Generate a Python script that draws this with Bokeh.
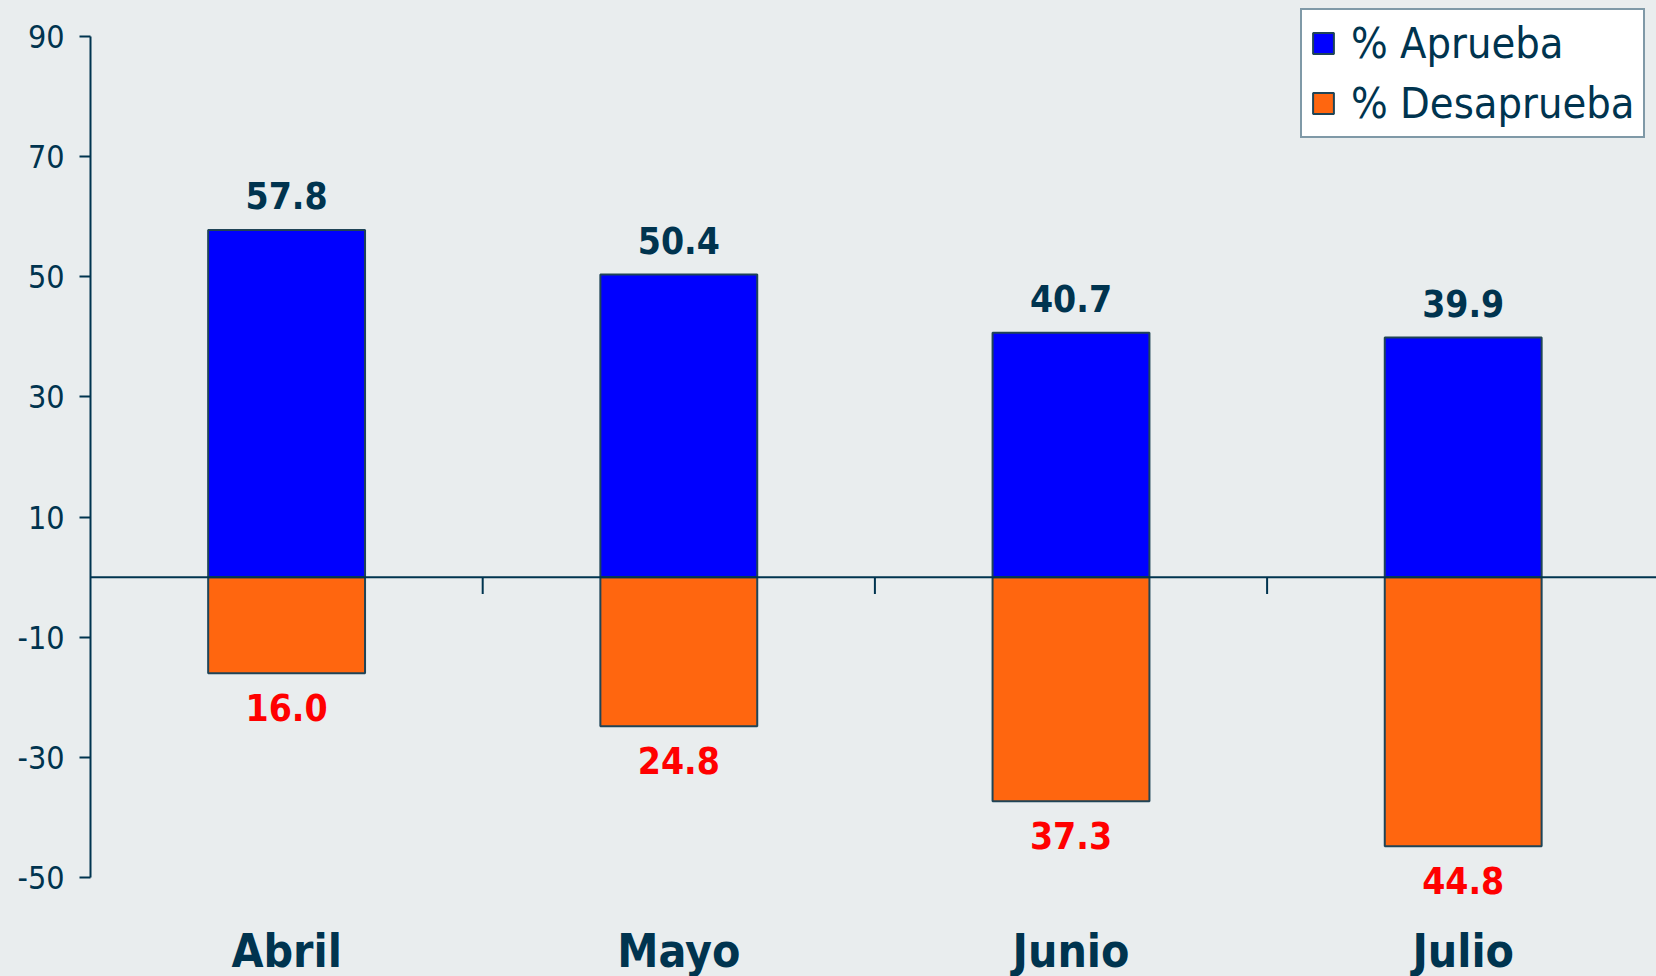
from bokeh.plotting import figure
from bokeh.models import Range1d, FixedTicker, Span, Legend, LegendItem, ColumnDataSource
from bokeh.core.properties import value
from bokeh.embed import file_html
from bokeh.resources import INLINE

categories = ["Abril", "Mayo", "Junio", "Julio"]
aprueba = [57.8, 50.4, 40.7, 39.9]
desaprueba = [16.0, 24.8, 37.3, 44.8]
y_ticks = [-50, -30, -10, 10, 30, 50, 70, 90]
series_names = ["% Aprueba", "% Desaprueba"]

BG = "#E9EDEE"
NAVY = "#00344F"
OUTLINE = "#1F4457"
BLUE = "#0000FF"
ORANGE = "#FF660F"
RED = "#FF0000"
FONT = "DejaVu Sans Condensed, DejaVu Sans"

W, H = 1656, 976
LEFT = 90

n = len(categories)
xc = [i + 0.5 for i in range(n)]
bounds = list(range(1, n))
neg = [-v for v in desaprueba]

src = ColumnDataSource(dict(
    x=xc, cat=categories, ap=aprueba, de=neg,
    ap_lbl=[f"{v:.1f}" for v in aprueba],
    de_lbl=[f"{v:.1f}" for v in desaprueba],
))

Y1 = 96.0
Y0 = Y1 - H / 6.007
p = figure(width=W, height=H, output_backend="svg", toolbar_location=None,
           x_range=Range1d(0, (W - LEFT) / 392.2), y_range=Range1d(Y0, Y1),
           min_border_left=LEFT, min_border_right=0, min_border_top=0, min_border_bottom=0,
           background_fill_color=BG, border_fill_color=BG, outline_line_color=None,
           x_axis_location=None)
p.grid.visible = False

ax = p.yaxis[0]
ax.ticker = FixedTicker(ticks=y_ticks)
ax.bounds = (min(y_ticks), max(y_ticks))
ax.major_label_overrides = {t: str(t) for t in y_ticks}
ax.major_tick_in = 0
ax.major_tick_out = 11
ax.minor_tick_in = 0
ax.minor_tick_out = 0
ax.axis_line_color = NAVY
ax.axis_line_width = 2
ax.major_tick_line_color = NAVY
ax.major_tick_line_width = 2
ax.major_label_text_font = FONT
ax.major_label_text_font_size = "32px"
ax.major_label_text_color = NAVY
ax.major_label_standoff = 15

r1 = p.vbar(x="x", top="ap", bottom=0, width=0.4, source=src,
            fill_color=BLUE, line_color=OUTLINE, line_width=2)
r2 = p.vbar(x="x", top=0, bottom="de", width=0.4, source=src,
            fill_color=ORANGE, line_color=OUTLINE, line_width=2)

p.add_layout(Span(location=0, dimension="width", line_color=NAVY, line_width=2))
p.segment(x0=bounds, y0=[0] * len(bounds), x1=bounds, y1=[-2.8] * len(bounds),
          line_color=NAVY, line_width=2)

p.text(x="x", y="ap", text="ap_lbl", source=src, text_align="center",
       text_baseline="alphabetic", y_offset=-34, text_font=value(FONT),
       text_font_style="bold", text_font_size="37px", text_color=NAVY)
p.text(x="x", y="de", text="de_lbl", source=src, text_align="center",
       text_baseline="alphabetic", y_offset=34, text_font=value(FONT),
       text_font_style="bold", text_font_size="37px", text_color=RED)
p.text(x="x", y=Y0, text="cat", source=src, text_align="center",
       text_baseline="alphabetic", y_offset=-26, text_font=value(FONT),
       text_font_style="bold", text_font_size="46px", text_color=NAVY)

legend = Legend(items=[LegendItem(label=series_names[0], renderers=[r1]),
                       LegendItem(label=series_names[1], renderers=[r2])],
                location=(1210, 838), margin=0, padding=8, spacing=10,
                glyph_width=26, glyph_height=26, label_standoff=15,
                label_text_font=FONT, label_text_font_size="43px",
                label_text_color=NAVY, border_line_color=NAVY, border_line_width=2,
                background_fill_color="white", background_fill_alpha=1.0)
p.add_layout(legend)

html = file_html(p, INLINE)
html = html.replace("<head>", "<head><style>body{background:#E9EDEE;}</style>", 1)
open("out.html", "w").write(html)
